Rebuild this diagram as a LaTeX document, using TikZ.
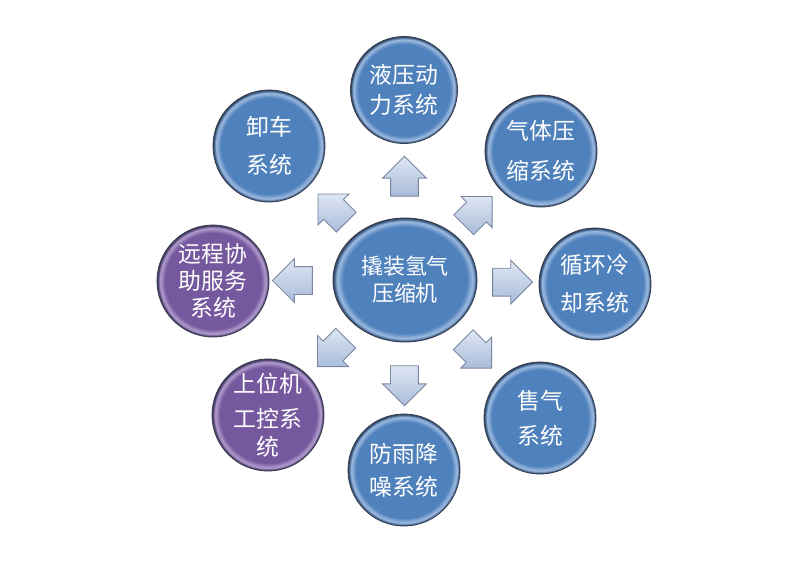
\documentclass[tikz,border=0pt]{standalone}
\usepackage{fontspec}
\newfontfamily\cjk{Noto Sans CJK SC}
\usetikzlibrary{shapes}
\usetikzlibrary{calc}

\definecolor{sysblue}{RGB}{79,129,189}
\definecolor{sysrim}{RGB}{160,188,224}
\definecolor{sysedge}{RGB}{55,62,80}
\definecolor{syspurple}{RGB}{118,88,158}
\definecolor{purprim}{RGB}{178,160,208}
\definecolor{arrowtop}{RGB}{222,230,243}
\definecolor{arrowbot}{RGB}{170,188,218}
\definecolor{arrowedge}{RGB}{120,134,160}

\pgfdeclareradialshading{bluebevel}{\pgfpoint{0bp}{0bp}}{color(0bp)=(sysblue); color(21.5bp)=(sysblue); color(23.6bp)=(sysrim); color(24.6bp)=(sysblue!75!black); color(25bp)=(sysedge); color(50bp)=(sysedge)}
\pgfdeclareradialshading{purplebevel}{\pgfpoint{0bp}{0bp}}{color(0bp)=(syspurple); color(21.5bp)=(syspurple); color(23.6bp)=(purprim); color(24.6bp)=(syspurple!75!black); color(25bp)=(sysedge); color(50bp)=(sysedge)}

\begin{document}
\begin{tikzpicture}[x=0.02cm,y=-0.02cm,every node/.append style={align=center},
    sys/.style={circle, minimum size=2.24cm, inner sep=0pt, shade, shading=bluebevel, draw=sysedge, line width=0.5pt, text=white, font=\cjk\fontsize{13}{17}\selectfont},
    rem/.style={sys, shading=purplebevel},
    hub/.style={sys, ellipse, minimum width=2.88cm, minimum height=2.48cm, font=\cjk\fontsize{12.5}{17}\selectfont},
    arr/.style={single arrow, single arrow head extend=0.16cm, inner xsep=0pt, inner ysep=0.27cm, minimum height=0.8cm, draw=arrowedge, line width=0.5pt, top color=arrowtop, bottom color=arrowbot}]
    \useasboundingbox (0,0) rectangle (800,566);

    \node [hub] (hub) at (405,280) {撬装氢气\\[-1.7pt]压缩机};
    \node [sys, minimum size=2.14cm] (hyd) at (404,90) {液压动\\力系统};
    \node [sys] (gas) at (541,151) {气体压\\[6pt]缩系统};
    \node [sys] (cool) at (595,284) {循环冷\\[4.5pt]却系统};
    \node [sys] (sale) at (540,418) {售气\\[3pt]系统};
    \node [sys] (rain) at (404,470) {防雨降\\[1.7pt]噪系统};
    \node [rem] (hmi) at (268,415) {上位机\\[3pt]工控系\\[-1pt]统};
    \node [rem] (remote) at (213,281) {远程协\\[-1.7pt]助服务\\[-1.7pt]系统};
    \node [sys] (unload) at (269,146) {卸车\\[4.5pt]系统};

    % block arrows between the hub and each system
    \node [arr, rotate=90] (a-hyd) at ($(hub)!0.51!(hyd)$) {};
    \node [arr, rotate=45] (a-gas) at ($(hub)!0.5!(gas)$) {};
    \node [arr, rotate=0] (a-cool) at ($(hub)!0.53!(cool)$) {};
    \node [arr, rotate=-45] (a-sale) at ($(hub)!0.5!(sale)$) {};
    \node [arr, rotate=-90] (a-rain) at ($(hub)!0.52!(rain)$) {};
    \node [arr, rotate=-135] (a-hmi) at ($(hub)!0.5!(hmi)$) {};
    \node [arr, rotate=180] (a-remote) at ($(hub)!0.55!(remote)$) {};
    \node [arr, rotate=135] (a-unload) at ($(hub)!0.5!(unload)$) {};
\end{tikzpicture}
\end{document}
